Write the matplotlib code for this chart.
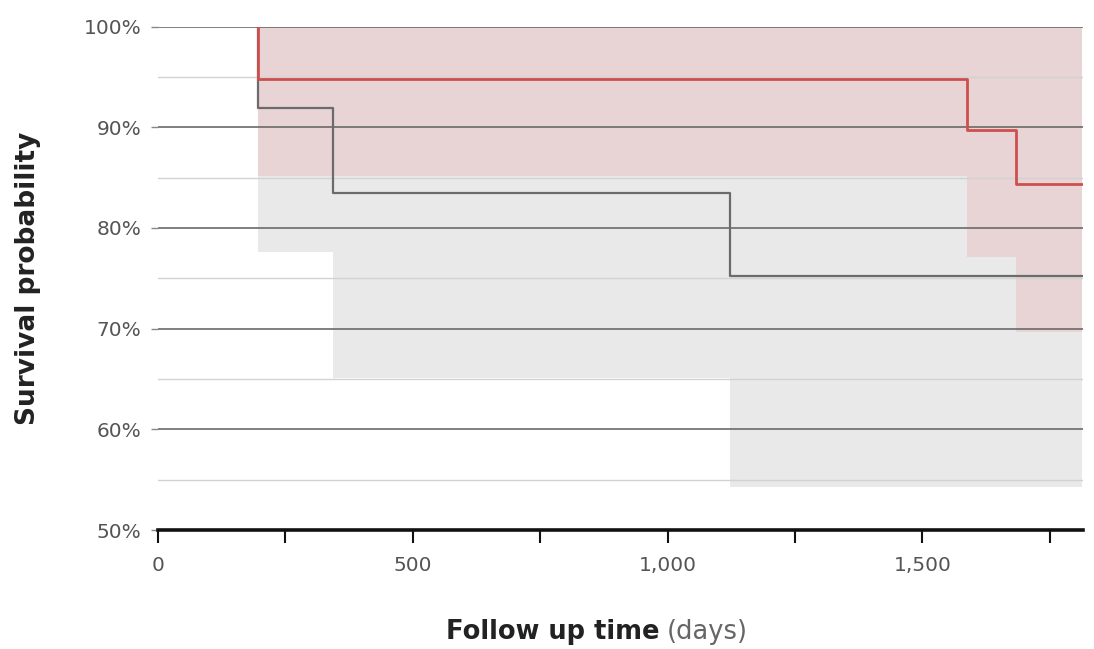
import numpy as np
import matplotlib
matplotlib.use('Agg')
import matplotlib.pyplot as plt
from matplotlib.ticker import MultipleLocator, FixedLocator

# Kaplan-Meier steps (days, survival %)
red_days = [196, 196, 1587, 1683, 1813]
red_surv = [100, 94.8, 89.7, 84.4, 84.4]
red_lower = [85.2, 85.2, 77.1, 69.7, 69.7]
red_upper = [100, 100, 100, 100, 100]

gray_days = [196, 196, 343, 1122, 1813]
gray_surv = [100, 91.9, 83.5, 75.2, 75.2]
gray_lower = [77.6, 77.6, 65.1, 54.3, 54.3]
gray_upper = [100, 100, 100, 100, 100]

x_ticks = [0, 500, 1000, 1500]
x_ticklabels = ['0', '500', '1,000', '1,500']
y_ticks = [50, 60, 70, 80, 90, 100]

FONT = 'DejaVu Sans'


def main():
    plt.rcParams['font.family'] = FONT
    fig = plt.figure(figsize=(10.94, 6.49), dpi=100)
    ax = fig.add_axes([158 / 1094, 1 - 530 / 649, (1083 - 158) / 1094, (530 - 26.5) / 649])

    # confidence bands
    ax.fill_between(gray_days, gray_lower, gray_upper, step='post', color='#e9e9e9', lw=0, zorder=1)
    ax.fill_between(red_days, red_lower, red_upper, step='post', color='#e8d3d5', lw=0, zorder=1.2)

    # survival curves
    ax.plot(gray_days, gray_surv, drawstyle='steps-post', color='#6b6b6b', lw=1.6, zorder=3)
    ax.plot(red_days, red_surv, drawstyle='steps-post', color='#cf4e4e', lw=2.0, zorder=3.2)

    ax.set_xlim(0, 1815)
    ax.set_ylim(50, 100)

    ax.set_axisbelow(False)
    ax.yaxis.set_major_locator(FixedLocator(y_ticks))
    ax.yaxis.set_minor_locator(MultipleLocator(5))
    ax.yaxis.grid(True, which='major', color='#6a6a6a', lw=1.2, zorder=2.5)
    ax.yaxis.grid(True, which='minor', color='#d2d2d2', lw=1.0, zorder=2.4)
    ax.set_yticklabels([f'{v}%' for v in y_ticks])
    ax.tick_params(axis='y', which='major', length=5, width=1, color='#888888',
                   labelsize=14.5, labelcolor='#555555', pad=7)
    ax.tick_params(axis='y', which='minor', length=0)

    ax.xaxis.set_major_locator(FixedLocator(x_ticks))
    ax.xaxis.set_minor_locator(MultipleLocator(250))
    ax.set_xticklabels(x_ticklabels)
    ax.tick_params(axis='x', which='both', length=9, width=1.5, color='#111111', direction='out')
    ax.tick_params(axis='x', which='major', labelsize=14.5, labelcolor='#555555', pad=10)

    for s in ['top', 'right', 'left']:
        ax.spines[s].set_visible(False)
    ax.spines['bottom'].set_color('#111111')
    ax.spines['bottom'].set_linewidth(2.6)
    ax.spines['bottom'].set_zorder(4)

    fig.text(28 / 1094, 1 - 278 / 649, 'Survival probability', rotation=90, ha='center', va='center',
             fontsize=19, fontweight='bold', color='#222222')
    fig.text(660 / 1094, 1 - 632 / 649, 'Follow up time', ha='right', va='center',
             fontsize=18.5, fontweight='bold', color='#222222')
    fig.text(667 / 1094, 1 - 632 / 649, '(days)', ha='left', va='center',
             fontsize=18.5, color='#666666')

    fig.savefig('out.png', dpi=100)


if __name__ == "__main__":
    main()
